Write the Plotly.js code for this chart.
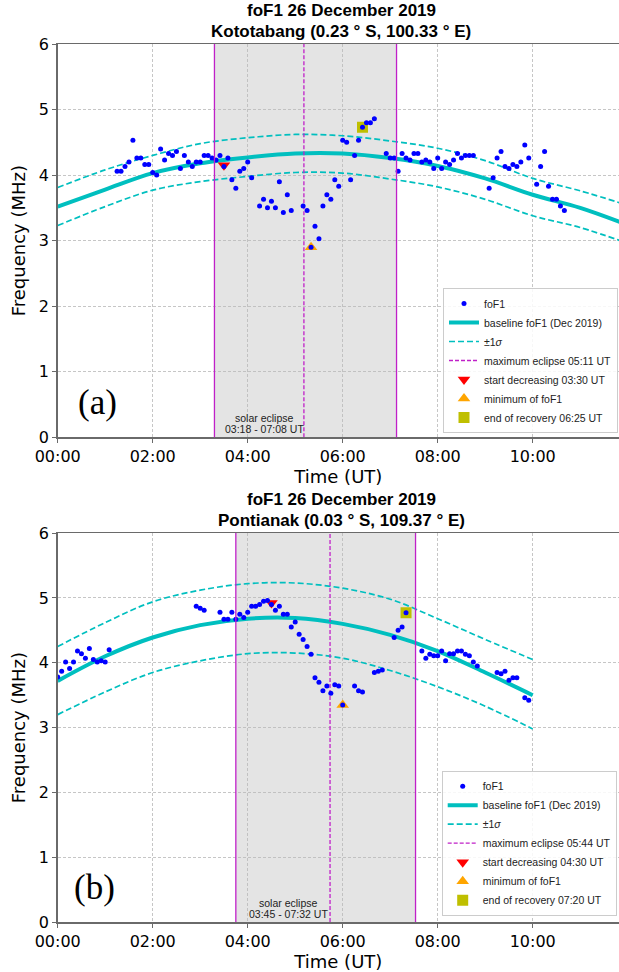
<!DOCTYPE html>
<html><head><meta charset="utf-8">
<script src="https://cdn.plot.ly/plotly-3.0.1.min.js"></script>
<style>html,body{margin:0;padding:0;background:#fff}#plot{width:619px;height:972px}</style>
</head><body><div id="plot"></div>
<script>
// ---------- Panel (a): Kototabang ----------
const ktbTimes = ["01:15","01:20","01:25","01:30","01:35","01:40","01:45","01:50","01:55","02:00","02:05","02:10","02:15","02:20","02:25","02:30","02:35","02:40","02:45","02:50","02:55","03:00","03:05","03:10","03:15","03:20","03:25","03:30","03:35","03:40","03:45","03:50","03:55","04:00","04:05","04:15","04:20","04:25","04:30","04:35","04:40","04:45","04:50","04:55","05:10","05:15","05:20","05:25","05:30","05:35","05:40","05:45","05:50","05:55","06:00","06:05","06:10","06:15","06:20","06:25","06:30","06:35","06:40","06:55","07:00","07:05","07:10","07:15","07:20","07:25","07:30","07:35","07:40","07:45","07:50","07:55","08:00","08:05","08:10","08:15","08:20","08:25","08:30","08:35","08:40","08:45","09:05","09:10","09:15","09:20","09:25","09:30","09:35","09:40","09:45","09:50","09:55","10:05","10:10","10:15","10:20","10:25","10:30","10:35","10:40"];
const ktbFoF1 = [4.06,4.06,4.13,4.20,4.53,4.26,4.26,4.16,4.16,4.04,4.00,4.40,4.23,4.33,4.30,4.36,4.10,4.30,4.20,4.13,4.20,4.20,4.30,4.30,4.26,4.23,4.30,4.13,4.26,3.93,3.80,4.06,4.10,4.20,3.96,3.53,3.63,3.50,3.60,3.50,3.90,3.43,3.70,3.46,3.53,3.46,2.90,3.22,3.03,3.53,3.70,3.63,3.93,3.83,4.53,4.50,3.93,4.30,4.53,4.73,4.80,4.80,4.86,4.33,4.26,4.26,4.06,4.33,4.26,4.23,4.33,4.33,4.20,4.23,4.20,4.10,4.26,4.10,4.20,4.16,4.23,4.33,4.26,4.30,4.30,4.30,3.80,3.96,4.26,4.36,4.13,4.10,4.16,4.13,4.20,4.46,4.26,3.86,4.13,4.36,3.83,3.63,3.63,3.53,3.46];
const ktbBaseTimes = ["00:00","01:00","02:00","03:00","04:00","05:00","06:00","07:00","08:00","09:00","10:00","11:00","12:00"];
const ktbBaseline = [3.52,3.78,4.03,4.18,4.27,4.33,4.33,4.26,4.14,3.95,3.70,3.50,3.24];
const ktbUpper    = [3.81,4.08,4.30,4.48,4.57,4.62,4.60,4.52,4.41,4.22,3.95,3.76,3.54];
const ktbLower    = [3.23,3.52,3.77,3.90,3.98,4.04,4.03,3.94,3.82,3.63,3.38,3.20,2.96];
const ktbEclipseTimes = ["03:18","05:11","07:08"];   // start, maximum, end
const ktbEventTimes = ["03:30","05:20","06:25"];     // start decreasing, minimum, end of recovery
const ktbEventValues = [4.15,2.90,4.73];

// ---------- Panel (b): Pontianak ----------
const ptkTimes = ["00:00","00:05","00:10","00:15","00:20","00:25","00:30","00:35","00:40","00:45","00:50","00:55","01:00","01:05","02:55","03:00","03:05","03:25","03:30","03:35","03:40","03:45","03:50","03:55","04:00","04:05","04:10","04:15","04:20","04:25","04:30","04:35","04:40","04:45","04:50","04:55","05:00","05:05","05:10","05:15","05:20","05:25","05:30","05:35","05:40","05:45","05:50","05:55","06:00","06:15","06:20","06:25","06:40","06:45","06:50","07:05","07:10","07:15","07:20","07:40","07:45","07:50","07:55","08:00","08:05","08:10","08:15","08:20","08:25","08:30","08:35","08:40","08:45","08:50","09:15","09:20","09:25","09:30","09:35","09:40","09:50","09:55"];
const ptkFoF1 = [3.78,3.87,4.01,3.91,4.01,4.18,4.14,4.07,4.22,4.05,4.01,4.03,4.01,4.20,4.87,4.84,4.81,4.78,4.67,4.67,4.78,4.67,4.75,4.70,4.78,4.87,4.87,4.90,4.95,4.96,4.90,4.81,4.87,4.75,4.75,4.55,4.63,4.44,4.36,4.25,4.13,3.77,3.70,3.57,3.64,3.53,3.66,3.64,3.35,3.64,3.57,3.55,3.85,3.87,3.89,4.39,4.50,4.55,4.77,4.18,4.07,4.13,4.11,4.11,4.18,4.03,4.14,4.14,4.18,4.18,4.13,4.11,4.01,3.95,3.85,3.83,3.87,3.73,3.77,3.77,3.46,3.42];
const ptkBaseTimes = ["00:00","01:00","02:00","03:00","04:00","05:00","06:00","07:00","08:00","09:00","10:00"];
const ptkBaseline = [3.72,4.10,4.39,4.58,4.68,4.69,4.60,4.43,4.18,3.85,3.50];
const ptkUpper    = [4.25,4.62,4.94,5.12,5.22,5.23,5.15,4.98,4.68,4.36,4.05];
const ptkLower    = [3.20,3.55,3.85,4.03,4.14,4.15,4.07,3.88,3.63,3.33,2.98];
const ptkEclipseTimes = ["03:45","05:44","07:32"];
const ptkEventTimes = ["04:30","06:00","07:20"];
const ptkEventValues = [4.92,3.35,4.77];

const xTickVals = ["00:00","02:00","04:00","06:00","08:00","10:00"];

// ---------- helpers ----------
const W = 619, H = 972;
const T = s => "2019-12-26 " + s;
const PX = p => p / W;
const PY = p => 1 - p / H;

const CYAN = "#00bfbf", MAG = "#c020c8";

function panelTraces(xa, ya, leg, times, vals, bT, base, up, lo, ecl, evT, evV) {
  const common = {xaxis: xa, yaxis: ya, legend: leg};
  return [
    Object.assign({x: bT.map(T), y: base, mode: "lines", name: "baseline foF1 (Dec 2019)",
      line: {color: CYAN, width: 4, shape: "spline"}, legendrank: 2}, common),
    Object.assign({x: bT.map(T), y: up, mode: "lines", name: "±1<i>σ</i>",
      line: {color: CYAN, width: 1.7, dash: "6px,3px", shape: "spline"}, legendrank: 3}, common),
    Object.assign({x: bT.map(T), y: lo, mode: "lines", name: "±1σ", showlegend: false,
      line: {color: CYAN, width: 1.7, dash: "6px,3px", shape: "spline"}}, common),
    Object.assign({x: [T(ecl[1]), T(ecl[1])], y: [0, 6], mode: "lines",
      name: "maximum eclipse " + ecl[1] + " UT",
      line: {color: MAG, width: 1.3, dash: "4px,2px"}, legendrank: 4}, common),
    Object.assign({x: [T(evT[0])], y: [evV[0]], mode: "markers", name: "start decreasing " + evT[0] + " UT",
      marker: {symbol: "triangle-down", color: "#ff0000", size: 11}, legendrank: 5}, common),
    Object.assign({x: [T(evT[1])], y: [evV[1]], mode: "markers", name: "minimum of foF1",
      marker: {symbol: "triangle-up", color: "#ffa500", size: 11}, legendrank: 6}, common),
    Object.assign({x: [T(evT[2])], y: [evV[2]], mode: "markers", name: "end of recovery " + evT[2] + " UT",
      marker: {symbol: "square", color: "#bfbf00", size: 11}, legendrank: 7}, common),
    Object.assign({x: times.map(T), y: vals, mode: "markers", name: "foF1",
      marker: {color: "#0000ff", size: 5}, legendrank: 1}, common)
  ];
}

const data = [].concat(
  panelTraces("x", "y", "legend", ktbTimes, ktbFoF1, ktbBaseTimes, ktbBaseline, ktbUpper, ktbLower, ktbEclipseTimes, ktbEventTimes, ktbEventValues),
  panelTraces("x2", "y2", "legend2", ptkTimes, ptkFoF1, ptkBaseTimes, ptkBaseline, ptkUpper, ptkLower, ptkEclipseTimes, ptkEventTimes, ptkEventValues)
);

const tickFont = {family: "DejaVu Sans", size: 16, color: "#000"};
const titleFont = {family: "DejaVu Sans", size: 18, color: "#000"};
function xAxis(anchor) {
  return {type: "date", anchor: anchor, domain: [PX(57.7), 1],
    range: [T("00:00"), T("11:49")], tickvals: xTickVals.map(T), ticktext: xTickVals,
    showgrid: true, gridcolor: "#b8b8b8", griddash: "3px,2px", gridwidth: 0.8,
    showline: true, linecolor: "#6a6a6a", linewidth: 1.5, mirror: true,
    ticks: "outside", ticklen: 4, tickcolor: "#6a6a6a", tickfont: tickFont,
    zeroline: false, title: {text: "Time (UT)", font: titleFont, standoff: 3}};
}
function yAxis(anchor, dom) {
  return {anchor: anchor, domain: dom, range: [0, 6], dtick: 1, tick0: 0,
    showgrid: true, gridcolor: "#b8b8b8", griddash: "3px,2px", gridwidth: 0.8,
    showline: true, linecolor: "#6a6a6a", linewidth: 1.5,
    ticks: "outside", ticklen: 4, tickcolor: "#6a6a6a", tickfont: tickFont,
    zeroline: false, title: {text: "Frequency (MHz)", font: titleFont, standoff: 8}};
}

function eclipseShapes(xr, yr, ecl) {
  return [
    {type: "rect", xref: xr, yref: yr + " domain", x0: T(ecl[0]), x1: T(ecl[2]), y0: 0, y1: 1,
      fillcolor: "#e4e4e4", line: {width: 0}, layer: "below"},
    {type: "line", xref: xr, yref: yr + " domain", x0: T(ecl[0]), x1: T(ecl[0]), y0: 0, y1: 1,
      line: {color: MAG, width: 1.3}, layer: "above"},
    {type: "line", xref: xr, yref: yr + " domain", x0: T(ecl[2]), x1: T(ecl[2]), y0: 0, y1: 1,
      line: {color: MAG, width: 1.3}, layer: "above"}
  ];
}

const annFontBold = {family: "Liberation Sans, Arial", size: 17, color: "#000"};
const smallFont = {family: "Liberation Sans, Arial", size: 10.5, color: "#222"};
function ann(text, x, y, font, xanchor) {
  return {text: text, xref: "paper", yref: "paper", x: PX(x), y: PY(y), showarrow: false,
    xanchor: xanchor || "center", yanchor: "middle", font: font};
}

const legendBase = {bgcolor: "rgba(255,255,255,0.85)", bordercolor: "#cccccc", borderwidth: 1,
  font: smallFont, tracegroupgap: 0, xanchor: "right", yanchor: "bottom"};

const layout = {
  width: W, height: H, margin: {l: 0, r: 0, t: 0, b: 0},
  paper_bgcolor: "#fff", plot_bgcolor: "#fff",
  xaxis: xAxis("y"), yaxis: yAxis("x", [PY(437.3), PY(44)]),
  xaxis2: xAxis("y2"), yaxis2: yAxis("x2", [PY(922.1), PY(533.1)]),
  legend: Object.assign({x: PX(618), y: PY(433)}, legendBase),
  legend2: Object.assign({x: PX(616.7), y: PY(915.7)}, legendBase),
  shapes: [].concat(eclipseShapes("x", "y", ktbEclipseTimes), eclipseShapes("x2", "y2", ptkEclipseTimes)),
  annotations: [
    ann("<b>foF1 26 December 2019</b>", 341, 11, annFontBold),
    ann("<b>Kototabang (0.23 ° S, 100.33 ° E)</b>", 341, 32, annFontBold),
    ann("<b>foF1 26 December 2019</b>", 341, 499, annFontBold),
    ann("<b>Pontianak (0.03 ° S, 109.37 ° E)</b>", 341, 520, annFontBold),
    ann("(a)", 97, 403, {family: "Liberation Serif, Times New Roman", size: 35, color: "#000"}),
    ann("(b)", 95, 887, {family: "Liberation Serif, Times New Roman", size: 35, color: "#000"}),
    ann("solar eclipse", 264, 418, smallFont),
    ann(ktbEclipseTimes[0] + " - " + ktbEclipseTimes[2] + " UT", 264, 429, smallFont),
    ann("solar eclipse", 288, 903, smallFont),
    ann(ptkEclipseTimes[0] + " - " + ptkEclipseTimes[2] + " UT", 288, 914, smallFont)
  ]
};

Plotly.newPlot("plot", data, layout, {staticPlot: true, displayModeBar: false});
</script>
</body></html>
